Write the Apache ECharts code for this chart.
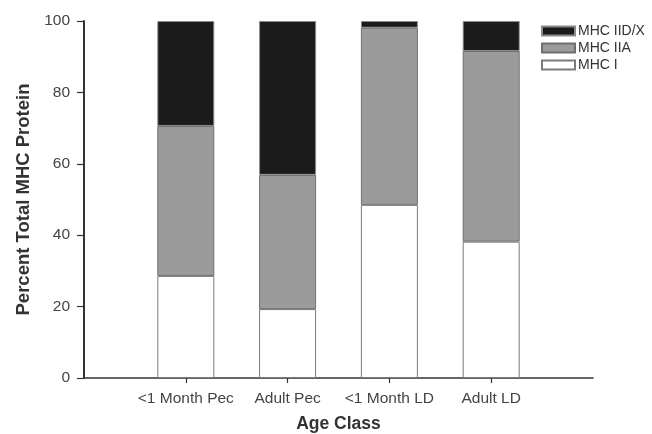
<!DOCTYPE html>
<html>
<head>
<meta charset="utf-8">
<script src="https://cdn.jsdelivr.net/npm/echarts@6/dist/echarts.min.js"></script>
<style>html,body{margin:0;padding:0;background:#fff;}#c{width:652px;height:434px;}</style>
</head>
<body>
<div id="c"></div>
<script>
const categories = ['', '<1 Month Pec', 'Adult Pec', '<1 Month LD', 'Adult LD', ''];
const mhcI   = ['-', 28.6, 19.3, 48.5, 38.2, '-'];
const mhcIIA = ['-', 42.0, 37.6, 49.6, 53.4, '-'];
const mhcIIDX= ['-', 29.4, 43.1, 1.9, 8.4, '-'];
const yTicks = [0, 20, 40, 60, 80, 100];

const chart = echarts.init(document.getElementById('c'));
const font = 'Liberation Sans, Arial, sans-serif';
const barBase = { type: 'bar', stack: 'mhc', barWidth: 57 };
chart.setOption({
  animation: false,
  backgroundColor: '#fff',
  grid: { left: 84, right: 59, top: 21, bottom: 56, outerBoundsMode: 'none', containLabel: false },
  legend: {
    orient: 'vertical', left: 536, top: 19,
    icon: 'rect',
    itemWidth: 33, itemHeight: 9, itemGap: 3,
    data: ['MHC IID/X', 'MHC IIA', 'MHC I'],
    textStyle: { fontFamily: font, fontSize: 14, color: '#333', padding: [0,0,0,-2], lineHeight: 14 }
  },
  xAxis: {
    type: 'category', data: categories, boundaryGap: false,
    axisLine: { lineStyle: { color: '#333', width: 1.6 } },
    axisTick: { length: 5, lineStyle: { color: '#333', width: 1.2 }, interval: (i) => i >= 1 && i <= 4 },
    axisLabel: { interval: 0, margin: 13, fontFamily: font, fontSize: 15.5, color: '#444' },
    name: 'Age Class', nameLocation: 'middle', nameGap: 37,
    nameTextStyle: { fontFamily: font, fontSize: 17.5, fontWeight: 'bold', color: '#333' }
  },
  yAxis: {
    type: 'value', min: yTicks[0], max: yTicks[yTicks.length - 1], interval: 20,
    splitLine: { show: false },
    axisLine: { show: true, lineStyle: { color: '#333', width: 2 } },
    axisTick: { show: true, length: 7, lineStyle: { color: '#333', width: 1.2 } },
    axisLabel: { margin: 14, fontFamily: font, fontSize: 15.5, color: '#444' },
    name: 'Percent Total MHC Protein', nameLocation: 'middle', nameGap: 46,
    nameTextStyle: { fontFamily: font, fontSize: 18.5, fontWeight: 'bold', color: '#333' }
  },
  series: [
    Object.assign({}, barBase, { name: 'MHC I', data: mhcI,
      itemStyle: { color: '#ffffff', borderColor: '#7a7a7a', borderWidth: 1 } }),
    Object.assign({}, barBase, { name: 'MHC IIA', data: mhcIIA,
      itemStyle: { color: '#9b9b9b', borderColor: '#6e6e6e', borderWidth: 1 } }),
    Object.assign({}, barBase, { name: 'MHC IID/X', data: mhcIIDX,
      itemStyle: { color: '#1b1b1b', borderColor: '#8a8a8a', borderWidth: 1 } })
  ]
});
</script>
</body>
</html>
